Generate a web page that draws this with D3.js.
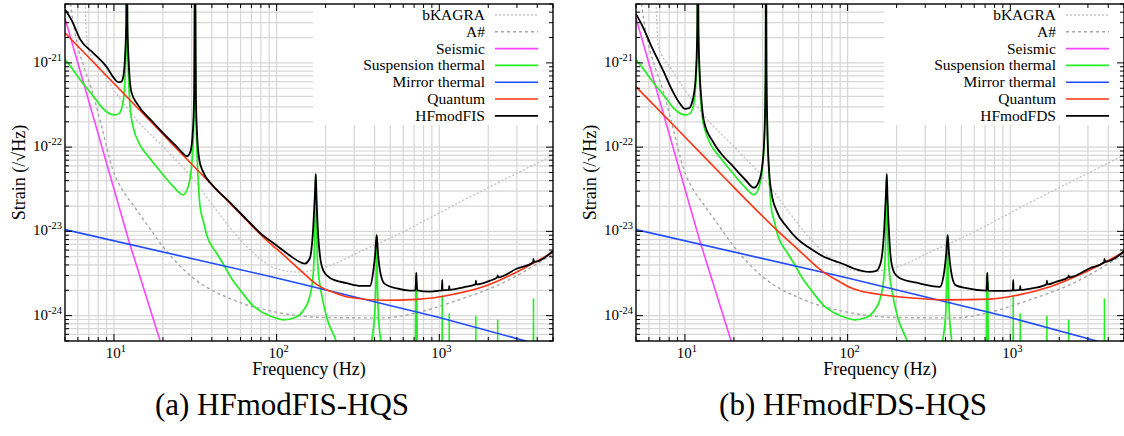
<!DOCTYPE html>
<html><head><meta charset="utf-8">
<script src="https://cdn.jsdelivr.net/npm/d3@7"></script>
<style>
body{margin:0;background:#fff}
svg{display:block}
text{font-family:"Liberation Serif","Times New Roman",serif;fill:#000}
</style></head>
<body><svg id="c" width="1124" height="436"></svg>
<script>
// ---------- data ----------
const freqDomain = [5, 5000];
const strainDomain = [5e-25, 5e-21];
const xTickValues = [10, 100, 1000];
const xTickExps = ["1", "2", "3"];
const yTickValues = [1e-21, 1e-22, 1e-23, 1e-24];
const yTickExps = ["-21", "-22", "-23", "-24"];
const xLabel = "Frequency (Hz)";
const yLabel = "Strain (/\u221AHz)";
const legendNames = ["bKAGRA", "A#", "Seismic", "Suspension thermal", "Mirror thermal", "Quantum"];
const totalNames = ["HFmodFIS", "HFmodFDS"];
const captions = ["(a) HFmodFIS-HQS", "(b) HFmodFDS-HQS"];

const bKAGRA = [[6.62,8e-21],[6.72,3e-21],[6.82,1.7e-21],[7.2,1.25e-21],[8.2,8.6e-22],[9.0,6.5e-22],[9.9,4.9e-22],[11.1,3.6e-22],[13.8,2.1e-22],[19.2,1.1e-22],[25,6.5e-23],[29.3,4.7e-23],[40.8,2.0e-23],[65.4,6.6e-24],[100,3.6e-24],[133,3.3e-24],[203,3.8e-24],[341,6.0e-24],[500,8.3e-24],[760,1.25e-23],[1200,2.0e-23],[2000,3.3e-23],[3000,4.9e-23],[5000,8e-23]];

const aSharp = [[5.3,7e-21],[5.5,3.9e-21],[5.93,1.72e-21],[6.6,8.5e-22],[7.3,4.8e-22],[8.5,1.6e-22],[9.8,5.5e-23],[11.4,3e-23],[13.1,2.06e-23],[16,1.2e-23],[20,6.6e-24],[30,2.9e-24],[54,1.54e-24],[95,1.12e-24],[200,9.5e-25],[450,9.4e-25],[728,1.08e-24],[1200,1.45e-24],[2460,2.45e-24],[5000,5.4e-24]];

const seismic = [[5,3.4e-21],[12.4,7.5e-24],[21,2.9e-25]];

const suspension = [[5,1.1e-21],[5.5,8.7e-22],[6.2,6.3e-22],[7.5,4.0e-22],[8.6,2.85e-22],[9.4,2.5e-22],[10.1,2.41e-22],[10.7,2.5e-22],[11.1,2.8e-22],[11.5,4e-22],[11.75,8e-22],[11.9,2e-21],[12.0,3e-20],[12.1,2e-21],[12.25,8e-22],[12.5,3.5e-22],[12.8,2.2e-22],[13.1,1.75e-22],[14.5,1.05e-22],[16.6,7.4e-23],[19.2,5.2e-23],[23.2,3.4e-23],[26.6,2.71e-23],[28.6,3.4e-23],[30,5.9e-23],[30.9,1.6e-22],[31.3,8e-22],[31.5,3e-20],[31.7,8e-22],[32.1,1.6e-22],[32.8,5e-23],[33.8,2e-23],[35.5,1.3e-23],[37.2,9e-24],[42.8,5.5e-24],[46.3,4.3e-24],[54,2.6e-24],[58.7,2.1e-24],[72,1.3e-24],[87,1.03e-24],[100,9.3e-25],[110,8.9e-25],[130,9.5e-25],[146,1.15e-24],[160,1.7e-24],[168,3.2e-24],[172,1.14e-23],[174,4.8e-23],[176,1.14e-23],[179,4e-24],[190,1.7e-24],[205,9e-25],[232,5e-25],[270,1.5e-25],[330,1.2e-25],[384,5e-25],[402,1.17e-24],[409,3.5e-24],[412,9e-24],[415,3.5e-24],[421,1.17e-24],[436,5e-25],[480,8e-26],[712,3e-26],[717,3.0e-24],[721,3e-26],[725,3e-26],[729,2.6e-24],[733,3e-26],[1037,3e-26],[1042,1.76e-24],[1047,3e-26],[1145,3e-26],[1151,1.07e-24],[1157,3e-26],[1670,3e-26],[1679,1.0e-24],[1688,3e-26],[2273,3e-26],[2285,9e-25],[2297,3e-26],[3774,3e-26],[3793,1.61e-24],[3812,3e-26],[5000,3e-26]];

const mirror = [[5,1.05e-23],[100,2.8e-24],[1000,9.5e-25],[3400,5e-25],[4000,4.3e-25]];

const quantumFIS = [[5,2.27e-21],[10,5.7e-22],[20,1.42e-22],[30,6.3e-23],[50,2.3e-23],[68.6,1.23e-23],[87,7.8e-24],[100,6.2e-24],[139,3.5e-24],[176,2.35e-24],[193,2.12e-24],[240,1.8e-24],[280,1.65e-24],[450,1.52e-24],[725,1.56e-24],[1160,1.76e-24],[1860,2.2e-24],[3000,3.3e-24],[5000,5.7e-24]];

const quantumFDS = [[5,5.2e-22],[10,1.32e-22],[18,4.1e-23],[25,2.15e-23],[36.6,1.04e-23],[50,6.0e-24],[70.8,3.3e-24],[90,2.5e-24],[103,2.17e-24],[119,1.97e-24],[166,1.76e-24],[250,1.62e-24],[406,1.54e-24],[750,1.57e-24],[1094,1.74e-24],[1754,2.2e-24],[2812,3.2e-24],[5000,5.7e-24]];

const totalFIS = [[5,4.3e-21],[5.5,3.2e-21],[6.2,1.9e-21],[7.5,1.3e-21],[9.0,9.0e-22],[10.0,6.6e-22],[10.6,5.9e-22],[11.1,6.0e-22],[11.4,6.8e-22],[11.7,1.2e-21],[11.9,3e-21],[12.0,3e-20],[12.1,3e-21],[12.3,1.1e-21],[12.8,4.5e-22],[14,3.2e-22],[17,2.07e-22],[20,1.48e-22],[24,1.04e-22],[26.5,8.5e-23],[28,7.8e-23],[29.5,8.8e-23],[30.5,1.5e-22],[31.1,4e-22],[31.5,3e-20],[31.9,4e-22],[32.5,1.3e-22],[33.5,7e-23],[35,5.3e-23],[40,3.6e-23],[50,2.35e-23],[65,1.4e-23],[80,9.4e-24],[100,6.8e-24],[120,5.2e-24],[140,4.3e-24],[149,4.15e-24],[160,4.8e-24],[168,1.14e-23],[172,2.8e-23],[174,4.8e-23],[176,2.4e-23],[180,9e-24],[185,5e-24],[194,3.4e-24],[213,2.8e-24],[269,2.43e-24],[330,2.25e-24],[375,2.25e-24],[393,3.4e-24],[404,5.5e-24],[412,9.1e-24],[420,5.5e-24],[432,3.4e-24],[460,2.4e-24],[550,2.1e-24],[660,1.98e-24],[712,2.0e-24],[718,2.4e-24],[722,3.24e-24],[726,2.4e-24],[732,2.0e-24],[875,1.93e-24],[1000,1.98e-24],[1037,2.0e-24],[1042,2.65e-24],[1047,2.0e-24],[1145,2.02e-24],[1151,2.25e-24],[1157,2.02e-24],[1403,2.17e-24],[1670,2.35e-24],[1679,2.6e-24],[1688,2.35e-24],[2047,2.6e-24],[2273,2.85e-24],[2285,3.0e-24],[2297,2.85e-24],[2985,3.6e-24],[3774,4.3e-24],[3793,4.7e-24],[3812,4.35e-24],[5000,5.85e-24]];

const totalFDS = [[5,3.8e-21],[5.5,2.7e-21],[6.1,1.71e-21],[7.3,8.3e-22],[8.5,4.4e-22],[9.3,3.3e-22],[10.0,2.85e-22],[10.6,2.9e-22],[11.0,3.3e-22],[11.4,4.5e-22],[11.7,8e-22],[11.9,2.5e-21],[12.0,3e-20],[12.1,2.5e-21],[12.3,8e-22],[12.6,3.8e-22],[13.1,2.0e-22],[14.9,1.15e-22],[17,8e-23],[19.0,6.4e-23],[23.5,4.1e-23],[26.6,3.3e-23],[28.6,4.0e-23],[30,6.5e-23],[30.9,1.7e-22],[31.3,8e-22],[31.5,3e-20],[31.7,8e-22],[32.1,1.7e-22],[32.8,5.8e-23],[34,2.9e-23],[36.6,1.75e-23],[42,1.15e-23],[48.5,8.3e-24],[58.7,6.3e-24],[70,5.1e-24],[94,4.1e-24],[110,3.6e-24],[137,3.3e-24],[150,3.4e-24],[160,4.3e-24],[168,1.1e-23],[172,2.8e-23],[174,4.8e-23],[176,2.4e-23],[180,9e-24],[185,4.5e-24],[194,3.2e-24],[210,2.78e-24],[266,2.46e-24],[369,2.2e-24],[393,3.4e-24],[404,5.5e-24],[412,9.1e-24],[420,5.5e-24],[432,3.4e-24],[460,2.3e-24],[538,2.12e-24],[712,1.98e-24],[718,2.4e-24],[722,3.24e-24],[726,2.4e-24],[732,1.98e-24],[863,1.97e-24],[1000,1.98e-24],[1037,2.0e-24],[1042,2.65e-24],[1047,2.0e-24],[1145,2.02e-24],[1151,2.25e-24],[1157,2.02e-24],[1384,2.12e-24],[1670,2.35e-24],[1679,2.6e-24],[1688,2.35e-24],[1928,2.54e-24],[2273,2.85e-24],[2285,3.0e-24],[2297,2.85e-24],[3083,3.65e-24],[3774,4.3e-24],[3793,4.7e-24],[3812,4.35e-24],[5000,5.8e-24]];

// ---------- drawing ----------
const svg = d3.select("#c");
const styles = [
  {color:"#c4c4c4", dash:"2,2", w:1.4, curve:d3.curveMonotoneX},
  {color:"#a6a6a6", dash:"3,3", w:1.4, curve:d3.curveMonotoneX},
  {color:"#ff44ff", dash:null, w:1.6, curve:d3.curveLinear},
  {color:"#22ee22", dash:null, w:1.7, curve:d3.curveMonotoneX},
  {color:"#1f4cff", dash:null, w:1.6, curve:d3.curveLinear},
  {color:"#ff3311", dash:null, w:1.6, curve:d3.curveMonotoneX},
  {color:"#000000", dash:null, w:1.8, curve:d3.curveMonotoneX}
];
const panels = [
  {dx:0, quantum:quantumFIS, total:totalFIS, name:totalNames[0], caption:captions[0]},
  {dx:571, quantum:quantumFDS, total:totalFDS, name:totalNames[1], caption:captions[1]}
];

panels.forEach((p, i) => {
  const L = 65 + p.dx, R = 553 + p.dx, T = 4, B = 341;
  const x = d3.scaleLog().domain(freqDomain).range([L, R]);
  const y = d3.scaleLog().domain(strainDomain).range([B, T]);
  const g = svg.append("g");
  const xt = x.ticks(), yt = y.ticks();

  // grid
  g.append("g").selectAll("line").data(xt.filter(v => v > freqDomain[0] && v < freqDomain[1])).join("line")
    .attr("x1", d => x(d)).attr("x2", d => x(d)).attr("y1", T).attr("y2", B)
    .attr("stroke", "#d6d6d6").attr("stroke-width", 1.2);
  g.append("g").selectAll("line").data(yt.filter(v => v > strainDomain[0]*1.001 && v < strainDomain[1]*0.999)).join("line")
    .attr("x1", L).attr("x2", R).attr("y1", d => y(d)).attr("y2", d => y(d))
    .attr("stroke", "#d6d6d6").attr("stroke-width", 1.2);

  // legend background
  g.append("rect").attr("x", L + 248).attr("y", T + 1).attr("width", R - L - 249).attr("height", 120).attr("fill", "#fff");

  // curves
  const clipId = "clip" + i;
  svg.append("clipPath").attr("id", clipId).append("rect")
    .attr("x", L).attr("y", T).attr("width", R - L).attr("height", B - T);
  const series = [bKAGRA, aSharp, seismic, suspension, mirror, p.quantum, p.total];
  const cg = g.append("g").attr("clip-path", `url(#${clipId})`);
  series.forEach((s, k) => {
    const st = styles[k];
    const line = d3.line().x(d => x(d[0])).y(d => y(d[1])).curve(st.curve);
    cg.append("path").attr("d", line(s)).attr("fill", "none")
      .attr("stroke", st.color).attr("stroke-width", st.w)
      .attr("stroke-dasharray", st.dash).attr("stroke-linejoin", "round");
  });

  // legend
  const names = legendNames.concat([p.name]);
  names.forEach((n, k) => {
    const cy = T + 11 + k * 16.8;
    g.append("text").attr("x", L + 420).attr("y", cy + 5).attr("text-anchor", "end")
      .attr("font-size", 15.5).text(n);
    g.append("line").attr("x1", L + 430).attr("x2", L + 473).attr("y1", cy).attr("y2", cy)
      .attr("stroke", styles[k].color).attr("stroke-width", styles[k].w)
      .attr("stroke-dasharray", styles[k].dash);
  });

  // ticks
  const tk = g.append("g").attr("stroke", "#000").attr("stroke-width", 1);
  xt.forEach(v => {
    const len = xTickValues.includes(v) ? 7 : 4;
    tk.append("line").attr("x1", x(v)).attr("x2", x(v)).attr("y1", B).attr("y2", B - len);
    tk.append("line").attr("x1", x(v)).attr("x2", x(v)).attr("y1", T).attr("y2", T + len);
  });
  yt.forEach(v => {
    const major = yTickValues.some(t => Math.abs(t - v) / t < 1e-6);
    const len = major ? 7 : 4;
    tk.append("line").attr("x1", L).attr("x2", L + len).attr("y1", y(v)).attr("y2", y(v));
    tk.append("line").attr("x1", R).attr("x2", R - len).attr("y1", y(v)).attr("y2", y(v));
  });

  // border
  g.append("rect").attr("x", L).attr("y", T).attr("width", R - L).attr("height", B - T)
    .attr("fill", "none").attr("stroke", "#000").attr("stroke-width", 1.4);

  // tick labels
  xTickValues.forEach((v, k) => {
    const t = g.append("text").attr("x", x(v) + 2).attr("y", B + 17).attr("text-anchor", "middle").attr("font-size", 15);
    t.append("tspan").text("10");
    t.append("tspan").attr("font-size", 10.5).attr("dy", -6).text(xTickExps[k]);
  });
  yTickValues.forEach((v, k) => {
    const t = g.append("text").attr("x", L - 3).attr("y", y(v) + 4).attr("text-anchor", "end").attr("font-size", 15);
    t.append("tspan").text("10");
    t.append("tspan").attr("font-size", 10.5).attr("dy", -6).text(yTickExps[k]);
  });

  // axis labels
  g.append("text").attr("x", (L + R) / 2).attr("y", B + 34).attr("text-anchor", "middle").attr("font-size", 18).text(xLabel);
  g.append("text").attr("transform", `translate(${L - 40},${(T + B) / 2}) rotate(-90)`)
    .attr("text-anchor", "middle").attr("font-size", 18).text(yLabel);

  // caption
  g.append("text").attr("x", 282 + p.dx).attr("y", 415).attr("text-anchor", "middle").attr("font-size", 31).text(p.caption);
});
</script>
</body></html>
